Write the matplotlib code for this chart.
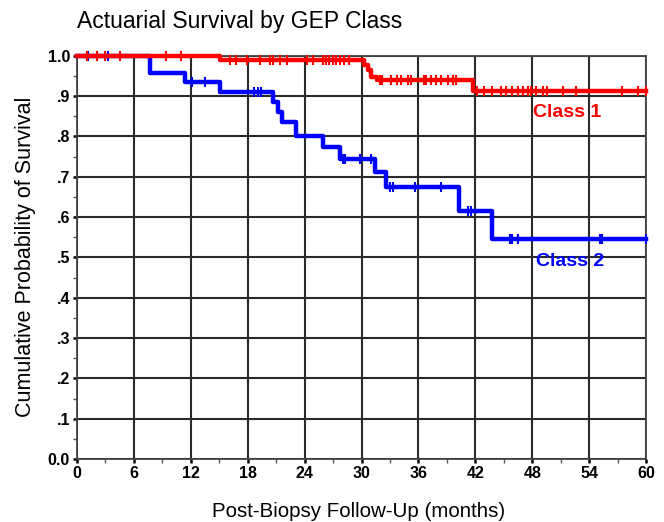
import numpy as np
import matplotlib
matplotlib.use("Agg")
import matplotlib.pyplot as plt

# step points (months, survival)
c1_t = [0, 15.1, 30.3, 30.7, 31.0, 31.6, 41.8, 60]
c1_s = [1.0, 0.989, 0.978, 0.965, 0.948, 0.94, 0.913, 0.913]
c2_t = [0, 7.7, 11.4, 15.1, 20.7, 21.2, 21.6, 23.1, 25.9, 27.7, 31.4, 32.6, 40.3, 43.8, 60]
c2_s = [1.0, 0.956, 0.934, 0.909, 0.886, 0.861, 0.836, 0.801, 0.774, 0.745, 0.712, 0.675, 0.615, 0.545, 0.545]

# censored observations
c1_cens = [1.0, 2.1, 2.9, 4.5, 9.4, 11.0, 16.1, 16.8, 17.9, 19.3, 20.3, 20.7, 21.4, 22.1,
           24.2, 24.9, 25.9, 26.3, 26.6, 27.0, 27.3, 27.7, 28.1, 28.7, 31.9, 32.2, 33.1,
           33.7, 34.2, 34.9, 35.2, 36.6, 36.8, 37.3, 37.9, 38.4, 39.1, 39.6, 40.0, 42.2,
           42.9, 43.8, 44.7, 45.2, 45.9, 46.5, 47.0, 47.5, 47.9, 48.4, 49.1, 49.6, 51.2,
           52.6, 57.5, 59.1, 60]
c2_cens = [1.2, 3.3, 12.1, 13.5, 18.7, 19.1, 19.4, 28.0, 28.3, 29.8, 31.0, 33.0, 33.3,
           35.6, 38.4, 41.2, 41.5, 45.6, 45.9, 46.5, 55.1, 55.4, 60]

red = "#ff0000"
blue = "#0000ff"


def surv_at(ts, ss, x):
    i = np.searchsorted(ts, x, side="right") - 1
    return ss[max(i, 0)]


plt.rcParams['font.family'] = ['Liberation Sans', 'DejaVu Sans']
fig = plt.figure(figsize=(6.64, 5.22), dpi=100)
ax = fig.add_axes([0.116, 0.1207, 0.857, 0.7726])

ax.set_xlim(0, 60)
ax.set_ylim(0, 1.0)
ax.set_xticks(np.arange(0, 61, 6))
ax.set_xticks(np.arange(3, 60, 3), minor=True)
ax.set_yticks(np.arange(0, 1.01, 0.1))
ax.set_yticks(np.arange(0.05, 1.0, 0.1), minor=True)
ax.set_yticklabels(["0.0", ".1", ".2", ".3", ".4", ".5", ".6", ".7", ".8", ".9", "1.0"])
ax.grid(True, which="major", color="#2a2a2a", lw=1.5)
ax.set_axisbelow(True)
for sp in ax.spines.values():
    sp.set_color("#444444")
    sp.set_linewidth(1.3)
ax.tick_params(which="major", length=3, width=1.8, color="black",
               labelsize=11.5, pad=2)
ax.tick_params(which="minor", length=3, width=1, color="#555555")
for lab in ax.get_xticklabels() + ax.get_yticklabels():
    lab.set_fontweight("bold")

ax.step(c2_t, c2_s, where="post", color=blue, lw=3.2, clip_on=False, zorder=3)
ax.step(c1_t, c1_s, where="post", color=red, lw=3.2, clip_on=False, zorder=4)
ax.plot(c2_cens, [surv_at(c2_t, c2_s, x) for x in c2_cens], ls="none", marker="|",
        ms=6.5, mew=1.5, color=blue, clip_on=False, zorder=3)
ax.plot(c1_cens, [surv_at(c1_t, c1_s, x) for x in c1_cens], ls="none", marker="|",
        ms=6.5, mew=1.5, color=red, clip_on=False, zorder=4)

ax.text(51.7, 0.86, "Class 1", color=red, fontsize=14, fontweight="bold",
        ha="center", va="center")
ax.text(52.0, 0.49, "Class 2", color=blue, fontsize=14, fontweight="bold",
        ha="center", va="center")

fig.text(0.116, 0.958, "Actuarial Survival by GEP Class", fontsize=16.5, ha="left", va="center")
fig.text(0.54, 0.021, "Post-Biopsy Follow-Up (months)", fontsize=14.8, ha="center", va="center")
fig.text(0.038, 0.508, "Cumulative Probability of Survival", fontsize=15.5, rotation=90,
         ha="center", va="center")

fig.savefig("out.png", dpi=100)
